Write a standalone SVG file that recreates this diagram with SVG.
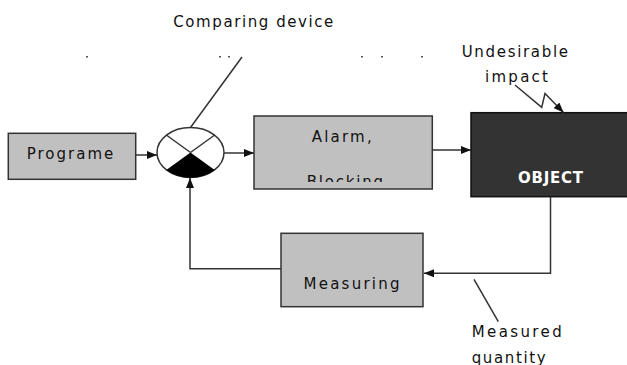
<svg xmlns="http://www.w3.org/2000/svg" width="627" height="365" viewBox="0 0 627 365">
<style>
.box{fill:#c0c0c0;stroke:#333;stroke-width:1.5}
.dark{fill:#333;stroke:#111;stroke-width:1.5}
.ln{fill:none;stroke:#333;stroke-width:1.5}
.t{font-family:"DejaVu Sans","Verdana",sans-serif;font-size:15px;fill:#111}
.w{font-family:"DejaVu Sans","Verdana",sans-serif;font-size:15px;font-weight:bold;fill:#fff}
</style>
<defs>
<marker id="ah" markerWidth="10" markerHeight="8" refX="10" refY="4" orient="auto" markerUnits="userSpaceOnUse">
<path d="M0,0 L10,4 L0,8 Z" fill="#111"/>
</marker>
<clipPath id="clipA"><rect x="255" y="100" width="177" height="82"/></clipPath>
</defs>
<rect width="627" height="365" fill="#fff"/>

<g id="comparing-label">
<text class="t" x="173.3" y="26.5" textLength="160" lengthAdjust="spacing">Comparing device</text>
<line class="ln" x1="190.5" y1="127.5" x2="242" y2="57" stroke-width="1.2"/>
<g fill="#555">
<rect x="86" y="56" width="2" height="1.5"/>
<rect x="219" y="56" width="2" height="1.5"/>
<rect x="228" y="56" width="2" height="1.5"/>
<rect x="361" y="56" width="2" height="1.5"/>
<rect x="381" y="56" width="2" height="1.5"/>
<rect x="421" y="56" width="2" height="1.5"/>
</g>
</g>

<g id="programe">
<rect class="box" x="8.3" y="133.3" width="127.4" height="46"/>
<text class="t" x="26.7" y="159.3" textLength="86.6" lengthAdjust="spacing">Programe</text>
</g>

<g id="comparator">
<ellipse cx="190.5" cy="152.5" rx="33.5" ry="25" fill="#fff" stroke="#333" stroke-width="1.5"/>
<path d="M190.5,152.5 L166.3,170 A33.5,25 0 0 0 214.7,170 Z" fill="#000"/>
<line class="ln" x1="166.3" y1="135" x2="190.5" y2="152.5" stroke-width="1.2"/>
<line class="ln" x1="214.7" y1="135" x2="190.5" y2="152.5" stroke-width="1.2"/>
</g>

<g id="alarm">
<rect class="box" x="254" y="116" width="178.3" height="73"/>
<text class="t" x="311.7" y="142.3" textLength="60" lengthAdjust="spacing">Alarm,</text>
<text class="t" x="306.7" y="186.5" textLength="76.3" lengthAdjust="spacing" clip-path="url(#clipA)">Blocking</text>
</g>

<g id="object">
<rect class="dark" x="471" y="112.7" width="160" height="84"/>
<text class="w" x="518" y="182.5" textLength="65" lengthAdjust="spacing">OBJECT</text>
</g>

<g id="impact">
<text class="t" x="461.7" y="56.7" textLength="106.3" lengthAdjust="spacing">Undesirable</text>
<text class="t" x="485" y="81.7" textLength="63" lengthAdjust="spacing">impact</text>
<polyline class="ln" points="515,85 541.7,107.3 545,93.5 563.5,112.5" marker-end="url(#ah)"/>
</g>

<g id="measuring">
<rect class="box" x="281" y="233.3" width="142" height="73.4"/>
<text class="t" x="303.5" y="288.5" textLength="96" lengthAdjust="spacing">Measuring</text>
</g>

<g id="measured-label">
<line class="ln" x1="474" y1="279.3" x2="498.3" y2="321.7" stroke-width="1.2"/>
<text class="t" x="471.7" y="337.3" textLength="90" lengthAdjust="spacing">Measured</text>
<text class="t" x="471.7" y="363" textLength="74" lengthAdjust="spacing">quantity</text>
</g>

<g id="connectors">
<line class="ln" x1="135.7" y1="155" x2="157" y2="155" marker-end="url(#ah)"/>
<line class="ln" x1="224" y1="153" x2="254" y2="153" marker-end="url(#ah)"/>
<line class="ln" x1="432.3" y1="150" x2="471" y2="150" marker-end="url(#ah)"/>
<polyline class="ln" points="550.5,196.7 550.5,273.3 424,273.3" marker-end="url(#ah)"/>
<polyline class="ln" points="281,268.8 190,268.8 190,178" marker-end="url(#ah)"/>
</g>
</svg>
